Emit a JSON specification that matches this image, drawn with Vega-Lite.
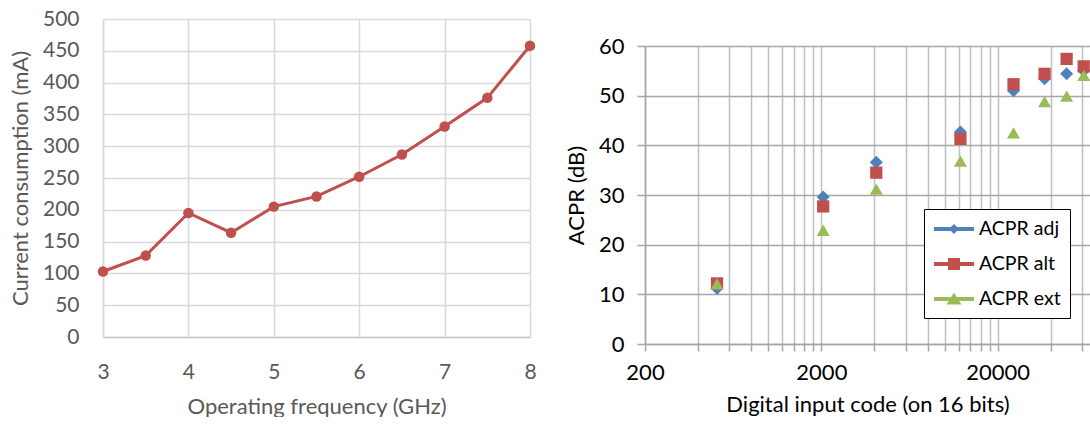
{
  "$schema": "https://vega.github.io/schema/vega-lite/v6.json",
  "padding": {"left": 9, "top": 8, "right": 0, "bottom": 0},
  "background": "white",
  "spacing": 28,
  "config": {"view": {"stroke": null}, "font": "Lato"},
  "hconcat": [
    {
      "width": 427,
      "height": 318,
      "data": {"values": [
        {"f": 3, "mA": 103},
        {"f": 3.5, "mA": 128},
        {"f": 4, "mA": 195},
        {"f": 4.5, "mA": 164},
        {"f": 5, "mA": 205},
        {"f": 5.5, "mA": 221},
        {"f": 6, "mA": 252},
        {"f": 6.5, "mA": 287},
        {"f": 7, "mA": 331},
        {"f": 7.5, "mA": 376},
        {"f": 8, "mA": 458}
      ]},
      "encoding": {
        "x": {"field": "f", "type": "quantitative",
          "scale": {"domain": [3, 8], "nice": false, "zero": false},
          "axis": {"title": "Operating frequency (GHz)", "values": [3, 4, 5, 6, 7, 8],
            "grid": true, "gridColor": "#D9D9D9", "gridWidth": 1.5,
            "domain": true, "domainColor": "#C8C8C8", "domainWidth": 1.5,
            "ticks": false, "labelPadding": 24, "labelFontSize": 21, "labelColor": "#595959",
            "labelFlush": false, "titleFontSize": 22, "titleColor": "#595959",
            "titleFontWeight": "normal", "titlePadding": 14}},
        "y": {"field": "mA", "type": "quantitative",
          "scale": {"domain": [0, 500], "nice": false},
          "axis": {"title": "Current consumption (mA)", "values": [0, 50, 100, 150, 200, 250, 300, 350, 400, 450, 500],
            "grid": true, "gridColor": "#D9D9D9", "gridWidth": 1.5,
            "domain": true, "domainColor": "#D9D9D9", "domainWidth": 1.5,
            "ticks": false, "labelPadding": 24, "labelFontSize": 21, "labelColor": "#595959",
            "labelFlush": false, "titleFontSize": 22, "titleColor": "#595959",
            "titleFontWeight": "normal", "titlePadding": 10}}
      },
      "layer": [
        {"mark": {"type": "line", "color": "#C0504D", "strokeWidth": 3}},
        {"mark": {"type": "point", "filled": true, "color": "#C0504D", "size": 110, "opacity": 1}}
      ]
    },
    {
      "spacing": 0,
      "vconcat": [
        {
          "width": 445,
          "height": 16,
          "data": {"values": [{"t": ""}]},
          "mark": {"type": "text", "text": ""},
          "encoding": {}
        },
        {
          "width": 445,
          "height": 298,
          "data": {"values": [
            {"code": 512, "acpr": 11.2, "series": "ACPR adj"},
            {"code": 2048, "acpr": 29.6, "series": "ACPR adj"},
            {"code": 4096, "acpr": 36.6, "series": "ACPR adj"},
            {"code": 12288, "acpr": 42.7, "series": "ACPR adj"},
            {"code": 24576, "acpr": 51.0, "series": "ACPR adj"},
            {"code": 36864, "acpr": 53.4, "series": "ACPR adj"},
            {"code": 49152, "acpr": 54.4, "series": "ACPR adj"},
            {"code": 61440, "acpr": 55.0, "series": "ACPR adj"},
            {"code": 512, "acpr": 12.2, "series": "ACPR alt"},
            {"code": 2048, "acpr": 27.7, "series": "ACPR alt"},
            {"code": 4096, "acpr": 34.5, "series": "ACPR alt"},
            {"code": 12288, "acpr": 41.3, "series": "ACPR alt"},
            {"code": 24576, "acpr": 52.3, "series": "ACPR alt"},
            {"code": 36864, "acpr": 54.4, "series": "ACPR alt"},
            {"code": 49152, "acpr": 57.4, "series": "ACPR alt"},
            {"code": 61440, "acpr": 55.9, "series": "ACPR alt"},
            {"code": 512, "acpr": 12.1, "series": "ACPR ext"},
            {"code": 2048, "acpr": 22.9, "series": "ACPR ext"},
            {"code": 4096, "acpr": 31.2, "series": "ACPR ext"},
            {"code": 12288, "acpr": 36.8, "series": "ACPR ext"},
            {"code": 24576, "acpr": 42.5, "series": "ACPR ext"},
            {"code": 36864, "acpr": 48.8, "series": "ACPR ext"},
            {"code": 49152, "acpr": 49.9, "series": "ACPR ext"},
            {"code": 61440, "acpr": 54.1, "series": "ACPR ext"}
          ]},
          "encoding": {
            "x": {"field": "code", "type": "quantitative",
              "scale": {"type": "log", "domain": [200, 66700], "nice": false},
              "axis": {"title": "Digital input code (on 16 bits)",
                "values": [200, 400, 600, 800, 1000, 1200, 1400, 1600, 1800, 2000, 4000, 6000, 8000, 10000, 12000, 14000, 16000, 18000, 20000, 40000, 60000],
                "format": "d",
                "labelExpr": "indexof([200, 2000, 20000], datum.value) >= 0 ? datum.label : ''",
                "grid": true, "gridColor": "#BFBFBF", "gridWidth": 1.5,
                "domain": true, "domainColor": "#A6A6A6", "domainWidth": 1.5,
                "ticks": true, "tickSize": 7, "tickColor": "#A6A6A6", "tickWidth": 1.5,
                "encode": {"ticks": {"update": {"opacity": {"signal": "indexof([200, 2000, 20000], datum.value) >= 0 ? 1 : 0"}}}},
                "labelPadding": 11, "labelFontSize": 22, "labelColor": "#000000", "labelFlush": false,
                "titleFontSize": 22, "titleColor": "#000000", "titleFontWeight": "normal", "titlePadding": 11}},
            "y": {"field": "acpr", "type": "quantitative",
              "scale": {"domain": [0, 60], "nice": false},
              "axis": {"title": "ACPR (dB)", "values": [0, 10, 20, 30, 40, 50, 60],
                "grid": true, "gridColor": "#A6A6A6", "gridWidth": 1.5,
                "domain": true, "domainColor": "#A6A6A6", "domainWidth": 1.5,
                "ticks": true, "tickSize": 8, "tickColor": "#A6A6A6", "tickWidth": 1.5,
                "labelPadding": 13, "labelFontSize": 22, "labelColor": "#000000", "labelFlush": false,
                "titleFontSize": 22, "titleColor": "#000000", "titleFontWeight": "normal", "titlePadding": 10}}
          },
          "layer": [
            {
              "data": {"values": []},
              "mark": {"type": "point", "filled": true, "opacity": 1},
              "encoding": {
                "x": null, "y": null,
                "color": {"field": "series", "type": "nominal",
                  "scale": {"domain": ["ACPR adj", "ACPR alt", "ACPR ext"], "range": ["#4F81BD", "#C0504D", "#9BBB59"]},
                  "legend": {"orient": "none", "legendX": 821, "legendY": 190, "title": null,
                    "strokeColor": "#000000", "fillColor": "#FFFFFF", "padding": 9,
                    "labelFontSize": 19.5, "labelColor": "#000000", "symbolSize": 400, "labelOffset": 24, "rowPadding": 14}},
                "shape": {"field": "series", "type": "nominal",
                  "scale": {"domain": ["ACPR adj", "ACPR alt", "ACPR ext"], "range": [
                    "M-1,-0.2L0.7,-0.2L1,-0.5L1.3,-0.2L3,-0.2L3,0.2L1.3,0.2L1,0.5L0.7,0.2L-1,0.2Z",
                    "M-1,-0.2L0.4,-0.2L0.4,-0.6L1.6,-0.6L1.6,-0.2L3,-0.2L3,0.2L1.6,0.2L1.6,0.6L0.4,0.6L0.4,0.2L-1,0.2Z",
                    "M-1,-0.2L0.725,-0.2L1,-0.64L1.275,-0.2L3,-0.2L3,0.2L1.525,0.2L1.75,0.56L0.25,0.56L0.475,0.2L-1,0.2Z"]}}
              }
            },
            {
              "transform": [{"filter": "datum.series === 'ACPR adj'"}],
              "mark": {"type": "point", "shape": "diamond", "filled": true, "opacity": 1, "size": 170, "color": "#4F81BD", "clip": true}
            },
            {
              "transform": [{"filter": "datum.series === 'ACPR alt'"}],
              "mark": {"type": "point", "shape": "square", "filled": true, "opacity": 1, "size": 150, "color": "#C0504D", "clip": true}
            },
            {
              "transform": [{"filter": "datum.series === 'ACPR ext'"}],
              "mark": {"type": "point", "shape": "triangle-up", "filled": true, "opacity": 1, "size": 170, "color": "#9BBB59", "clip": true}
            }
          ]
        }
      ]
    }
  ]
}
